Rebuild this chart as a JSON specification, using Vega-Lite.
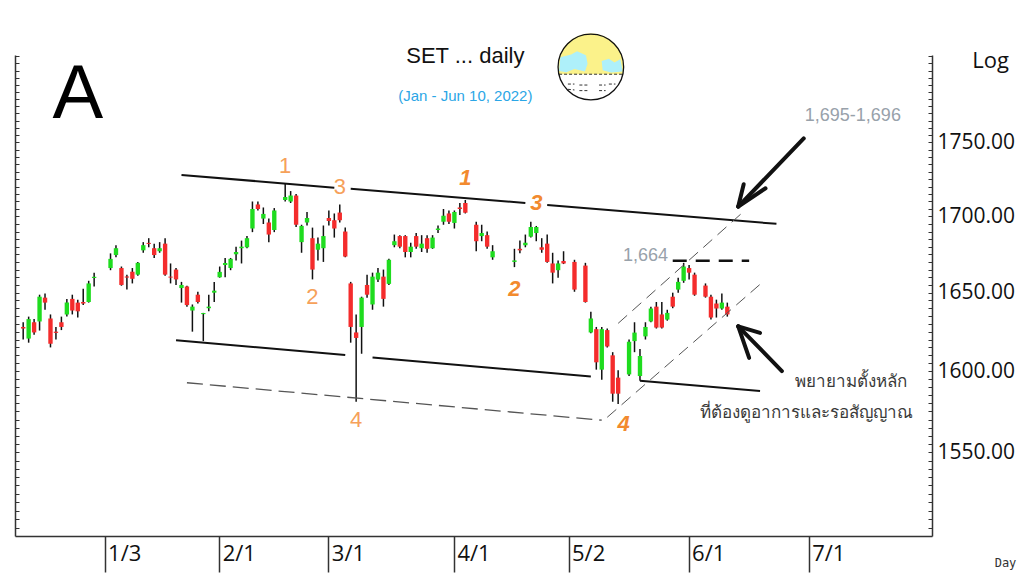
{
  "$schema": "https://vega.github.io/schema/vega-lite/v6.json",
  "width": 917,
  "height": 481,
  "autosize": {"type": "none"},
  "padding": {"left": 15, "top": 55, "right": 92, "bottom": 39},
  "background": "white",
  "config": {"view": {"stroke": null}, "font": "Liberation Sans"},
  "datasets": {
    "candles": [
      {"date": "2021-12-13", "open": 1628, "high": 1631, "low": 1620, "close": 1627},
      {"date": "2021-12-14", "open": 1620.6, "high": 1634.6, "low": 1618, "close": 1633},
      {"date": "2021-12-15", "open": 1631, "high": 1633, "low": 1623, "close": 1624.5},
      {"date": "2021-12-16", "open": 1631.5, "high": 1648.7, "low": 1625.7, "close": 1647.4},
      {"date": "2021-12-17", "open": 1646.8, "high": 1649.4, "low": 1639, "close": 1643.6},
      {"date": "2021-12-20", "open": 1633.4, "high": 1636, "low": 1615, "close": 1617.4},
      {"date": "2021-12-21", "open": 1625, "high": 1628, "low": 1620, "close": 1624.2},
      {"date": "2021-12-22", "open": 1631, "high": 1634.6, "low": 1626, "close": 1628},
      {"date": "2021-12-23", "open": 1636, "high": 1646, "low": 1634.6, "close": 1643.6},
      {"date": "2021-12-24", "open": 1646, "high": 1648.7, "low": 1636, "close": 1638.5},
      {"date": "2021-12-27", "open": 1643.6, "high": 1645.5, "low": 1634, "close": 1638},
      {"date": "2021-12-28", "open": 1644, "high": 1652.6, "low": 1642, "close": 1643},
      {"date": "2021-12-29", "open": 1644, "high": 1657.7, "low": 1643.6, "close": 1656},
      {"date": "2021-12-30", "open": 1659.5, "high": 1663, "low": 1654, "close": 1660.3},
      {"date": "2022-01-04", "open": 1666, "high": 1675.6, "low": 1664.6, "close": 1672},
      {"date": "2022-01-05", "open": 1674.5, "high": 1681, "low": 1673, "close": 1679},
      {"date": "2022-01-06", "open": 1666, "high": 1667, "low": 1654.5, "close": 1655},
      {"date": "2022-01-07", "open": 1660.5, "high": 1661.7, "low": 1652, "close": 1659.8},
      {"date": "2022-01-10", "open": 1663.6, "high": 1666, "low": 1656, "close": 1659},
      {"date": "2022-01-11", "open": 1661.7, "high": 1670, "low": 1661, "close": 1669.4},
      {"date": "2022-01-12", "open": 1677.6, "high": 1683, "low": 1676, "close": 1681},
      {"date": "2022-01-13", "open": 1682.5, "high": 1685.6, "low": 1679.6, "close": 1681.8},
      {"date": "2022-01-14", "open": 1679, "high": 1682, "low": 1672.6, "close": 1674.5},
      {"date": "2022-01-17", "open": 1677, "high": 1683, "low": 1676, "close": 1679},
      {"date": "2022-01-18", "open": 1682, "high": 1685.6, "low": 1661, "close": 1661.7},
      {"date": "2022-01-19", "open": 1660.4, "high": 1669, "low": 1656, "close": 1659.8},
      {"date": "2022-01-20", "open": 1665, "high": 1666, "low": 1655, "close": 1658.6},
      {"date": "2022-01-21", "open": 1653, "high": 1657, "low": 1643.6, "close": 1655},
      {"date": "2022-01-24", "open": 1654, "high": 1654.5, "low": 1641, "close": 1642},
      {"date": "2022-01-25", "open": 1638.5, "high": 1642.4, "low": 1625, "close": 1641},
      {"date": "2022-01-26", "open": 1648.7, "high": 1650.6, "low": 1643, "close": 1644},
      {"date": "2022-01-27", "open": 1636.2, "high": 1637, "low": 1619, "close": 1636.9},
      {"date": "2022-01-28", "open": 1640, "high": 1648.7, "low": 1638, "close": 1641},
      {"date": "2022-01-31", "open": 1650, "high": 1657, "low": 1644, "close": 1651.3},
      {"date": "2022-02-01", "open": 1660, "high": 1667, "low": 1659.7, "close": 1663.5},
      {"date": "2022-02-02", "open": 1668, "high": 1672.6, "low": 1660, "close": 1669.3},
      {"date": "2022-02-03", "open": 1666, "high": 1672.6, "low": 1664.6, "close": 1672},
      {"date": "2022-02-04", "open": 1675, "high": 1680, "low": 1671, "close": 1676.5},
      {"date": "2022-02-07", "open": 1679, "high": 1684, "low": 1669, "close": 1680},
      {"date": "2022-02-08", "open": 1679.6, "high": 1687, "low": 1679, "close": 1685.6},
      {"date": "2022-02-09", "open": 1692, "high": 1710, "low": 1689.6, "close": 1705},
      {"date": "2022-02-10", "open": 1708, "high": 1710, "low": 1704, "close": 1705},
      {"date": "2022-02-11", "open": 1698.6, "high": 1706, "low": 1695, "close": 1701.7},
      {"date": "2022-02-14", "open": 1696, "high": 1698.6, "low": 1683, "close": 1688},
      {"date": "2022-02-15", "open": 1691, "high": 1705.6, "low": 1689.6, "close": 1704},
      {"date": "2022-02-17", "open": 1711, "high": 1722, "low": 1710, "close": 1713},
      {"date": "2022-02-18", "open": 1710, "high": 1717, "low": 1709, "close": 1714},
      {"date": "2022-02-21", "open": 1714, "high": 1715, "low": 1693, "close": 1694.5},
      {"date": "2022-02-22", "open": 1683, "high": 1694.5, "low": 1676, "close": 1693.7},
      {"date": "2022-02-23", "open": 1696, "high": 1702.9, "low": 1694, "close": 1699},
      {"date": "2022-02-24", "open": 1685.6, "high": 1692.6, "low": 1658.6, "close": 1665},
      {"date": "2022-02-25", "open": 1678, "high": 1686, "low": 1671, "close": 1682},
      {"date": "2022-02-28", "open": 1679, "high": 1694, "low": 1670, "close": 1687},
      {"date": "2022-03-01", "open": 1699, "high": 1704, "low": 1694, "close": 1697},
      {"date": "2022-03-02", "open": 1697.5, "high": 1702, "low": 1686, "close": 1692},
      {"date": "2022-03-03", "open": 1702.6, "high": 1708, "low": 1696, "close": 1697.5},
      {"date": "2022-03-04", "open": 1690, "high": 1692.6, "low": 1673, "close": 1673.5},
      {"date": "2022-03-07", "open": 1656, "high": 1657, "low": 1618, "close": 1628},
      {"date": "2022-03-08", "open": 1624.5, "high": 1636, "low": 1581, "close": 1621},
      {"date": "2022-03-09", "open": 1628, "high": 1647.4, "low": 1611, "close": 1646.8},
      {"date": "2022-03-10", "open": 1655, "high": 1661.7, "low": 1646.8, "close": 1648.7},
      {"date": "2022-03-11", "open": 1642.4, "high": 1663, "low": 1639, "close": 1660.4},
      {"date": "2022-03-14", "open": 1658.5, "high": 1666, "low": 1657, "close": 1663},
      {"date": "2022-03-15", "open": 1660.4, "high": 1665, "low": 1641, "close": 1646},
      {"date": "2022-03-16", "open": 1655.7, "high": 1672, "low": 1655, "close": 1671.4},
      {"date": "2022-03-17", "open": 1681, "high": 1688, "low": 1679.6, "close": 1683.6},
      {"date": "2022-03-18", "open": 1687, "high": 1687.6, "low": 1679, "close": 1680},
      {"date": "2022-03-21", "open": 1687, "high": 1687.6, "low": 1673, "close": 1676.5},
      {"date": "2022-03-22", "open": 1676.5, "high": 1682.6, "low": 1673, "close": 1680},
      {"date": "2022-03-23", "open": 1687, "high": 1689, "low": 1678.6, "close": 1680},
      {"date": "2022-03-24", "open": 1679, "high": 1687.6, "low": 1676.5, "close": 1682},
      {"date": "2022-03-25", "open": 1685.6, "high": 1687.6, "low": 1676, "close": 1678.6},
      {"date": "2022-03-28", "open": 1679, "high": 1687.6, "low": 1678.6, "close": 1686},
      {"date": "2022-03-29", "open": 1691, "high": 1694, "low": 1689, "close": 1692},
      {"date": "2022-03-30", "open": 1696.5, "high": 1705, "low": 1694.5, "close": 1700.5},
      {"date": "2022-03-31", "open": 1702, "high": 1704, "low": 1695, "close": 1696.5},
      {"date": "2022-04-01", "open": 1695.7, "high": 1704, "low": 1692, "close": 1703},
      {"date": "2022-04-04", "open": 1706, "high": 1709, "low": 1701, "close": 1705},
      {"date": "2022-04-05", "open": 1709, "high": 1711, "low": 1702, "close": 1702.5},
      {"date": "2022-04-07", "open": 1694.5, "high": 1696.5, "low": 1677, "close": 1683.6},
      {"date": "2022-04-08", "open": 1687, "high": 1694.5, "low": 1683.6, "close": 1689},
      {"date": "2022-04-11", "open": 1687.6, "high": 1690, "low": 1678.6, "close": 1680},
      {"date": "2022-04-12", "open": 1673, "high": 1681, "low": 1671.4, "close": 1677},
      {"date": "2022-04-18", "open": 1670, "high": 1678.6, "low": 1666.6, "close": 1671},
      {"date": "2022-04-19", "open": 1678.6, "high": 1684, "low": 1675.7, "close": 1677.6},
      {"date": "2022-04-20", "open": 1681, "high": 1688, "low": 1679.6, "close": 1682.6},
      {"date": "2022-04-21", "open": 1686.6, "high": 1696.5, "low": 1686, "close": 1693},
      {"date": "2022-04-22", "open": 1689, "high": 1693.7, "low": 1683.6, "close": 1693},
      {"date": "2022-04-25", "open": 1679.6, "high": 1685.6, "low": 1676, "close": 1678},
      {"date": "2022-04-26", "open": 1682, "high": 1688, "low": 1669.4, "close": 1670},
      {"date": "2022-04-27", "open": 1669, "high": 1676, "low": 1656, "close": 1663},
      {"date": "2022-04-28", "open": 1664.6, "high": 1671, "low": 1659.7, "close": 1669},
      {"date": "2022-04-29", "open": 1670.6, "high": 1677, "low": 1668.6, "close": 1669},
      {"date": "2022-05-03", "open": 1670, "high": 1671.4, "low": 1650.6, "close": 1652},
      {"date": "2022-05-05", "open": 1667.6, "high": 1669.4, "low": 1643.6, "close": 1644},
      {"date": "2022-05-06", "open": 1624.5, "high": 1637.7, "low": 1624, "close": 1633.4},
      {"date": "2022-05-09", "open": 1626.6, "high": 1628, "low": 1601, "close": 1605.6},
      {"date": "2022-05-10", "open": 1601, "high": 1628, "low": 1594.6, "close": 1626.6},
      {"date": "2022-05-11", "open": 1626, "high": 1627, "low": 1615, "close": 1615.6},
      {"date": "2022-05-12", "open": 1610, "high": 1612, "low": 1581, "close": 1586},
      {"date": "2022-05-13", "open": 1596, "high": 1600.6, "low": 1579.6, "close": 1586},
      {"date": "2022-05-17", "open": 1598, "high": 1620, "low": 1597, "close": 1618.6},
      {"date": "2022-05-18", "open": 1619, "high": 1631, "low": 1612, "close": 1624.4},
      {"date": "2022-05-19", "open": 1597, "high": 1614, "low": 1594, "close": 1609.6},
      {"date": "2022-05-20", "open": 1622, "high": 1631, "low": 1620, "close": 1628},
      {"date": "2022-05-23", "open": 1631.5, "high": 1641, "low": 1631, "close": 1639.8},
      {"date": "2022-05-24", "open": 1641, "high": 1644, "low": 1627, "close": 1627.6},
      {"date": "2022-05-25", "open": 1636, "high": 1644, "low": 1627, "close": 1627.6},
      {"date": "2022-05-26", "open": 1632.7, "high": 1639, "low": 1632, "close": 1637},
      {"date": "2022-05-27", "open": 1647.4, "high": 1650, "low": 1640, "close": 1641},
      {"date": "2022-05-30", "open": 1652, "high": 1659.7, "low": 1650, "close": 1657},
      {"date": "2022-05-31", "open": 1657.7, "high": 1669.4, "low": 1656.4, "close": 1667},
      {"date": "2022-06-01", "open": 1666, "high": 1668, "low": 1658.6, "close": 1663},
      {"date": "2022-06-02", "open": 1661.7, "high": 1663, "low": 1648, "close": 1648.7},
      {"date": "2022-06-06", "open": 1654.6, "high": 1656, "low": 1646.8, "close": 1647.4},
      {"date": "2022-06-07", "open": 1647.4, "high": 1648.7, "low": 1632.7, "close": 1634},
      {"date": "2022-06-08", "open": 1643, "high": 1645.5, "low": 1634, "close": 1639.8},
      {"date": "2022-06-09", "open": 1639.8, "high": 1649.4, "low": 1639, "close": 1643.6},
      {"date": "2022-06-10", "open": 1641, "high": 1643.6, "low": 1634.6, "close": 1636}
    ],
    "trend": [
      {"date": "2022-01-21", "date_end": "2022-03-02", "price": 1727.9, "price_end": 1719.3},
      {"date": "2022-03-07", "date_end": "2022-04-20", "price": 1718.5, "price_end": 1709},
      {"date": "2022-04-26", "date_end": "2022-06-23", "price": 1707.6, "price_end": 1695.1},
      {"date": "2022-01-20", "date_end": "2022-03-04", "price": 1619.5, "price_end": 1610.2},
      {"date": "2022-03-11", "date_end": "2022-05-06", "price": 1608.7, "price_end": 1596.7},
      {"date": "2022-05-19", "date_end": "2022-06-20", "price": 1594.1, "price_end": 1587.6}
    ],
    "guide": [
      {"date": "2022-01-24", "date_end": "2022-05-10", "price": 1592.8, "price_end": 1569.6}
    ],
    "channel": [
      {"date": "2022-05-13", "date_end": "2022-06-15", "price": 1630.3, "price_end": 1703.3},
      {"date": "2022-05-11", "date_end": "2022-06-20", "price": 1571.4, "price_end": 1655.4}
    ],
    "level": [
      {"date": "2022-05-27", "date_end": "2022-06-16", "price": 1670.8, "price_end": 1670.8}
    ],
    "arrows": [
      {"date": "2022-06-30", "date_end": "2022-06-14", "price": 1752.8, "price_end": 1706.6},
      {"date": "2022-06-14", "date_end": "2022-06-15", "price": 1706.6, "price_end": 1721.6},
      {"date": "2022-06-14", "date_end": "2022-06-21", "price": 1706.6, "price_end": 1718.9},
      {"date": "2022-06-24", "date_end": "2022-06-14", "price": 1600.1, "price_end": 1628.4},
      {"date": "2022-06-14", "date_end": "2022-06-20", "price": 1628.4, "price_end": 1624.2},
      {"date": "2022-06-14", "date_end": "2022-06-16", "price": 1628.4, "price_end": 1608.4}
    ],
    "notes": [
      {"date": "2022-02-17", "price": 1734, "text": "1", "kind": "wave"},
      {"date": "2022-03-03", "price": 1720, "text": "3", "kind": "wave"},
      {"date": "2022-02-24", "price": 1647.5, "text": "2", "kind": "wave"},
      {"date": "2022-03-08", "price": 1569.5, "text": "4", "kind": "wave"},
      {"date": "2022-04-05", "price": 1726, "text": "1", "kind": "wave_alt"},
      {"date": "2022-04-22", "price": 1709, "text": "3", "kind": "wave_alt"},
      {"date": "2022-04-18", "price": 1652.5, "text": "2", "kind": "wave_alt"},
      {"date": "2022-05-16", "price": 1567.5, "text": "4", "kind": "wave_alt"},
      {"date": "2022-05-20", "price": 1674, "text": "1,664", "kind": "level"},
      {"date": "2022-07-13", "price": 1768.5, "text": "1,695-1,696", "kind": "level"},
      {"date": "2022-07-27", "price": 1593, "text": "พยายามตั้งหลัก", "kind": "comment"},
      {"date": "2022-07-28", "price": 1574, "text": "ที่ต้องดูอาการและรอสัญญาณ", "kind": "comment"},
      {"date": "2021-12-27", "price": 1782.7, "text": "A", "kind": "panel"},
      {"date": "2022-04-05", "price": 1810, "text": "SET ... daily", "kind": "title"},
      {"date": "2022-04-05", "price": 1782, "text": "(Jan - Jun 10, 2022)", "kind": "subtitle"}
    ],
    "logo": [
      {"date": "2022-05-06", "price": 1802.5}
    ]
  },
  "resolve": {"axis": {"y": "independent"}},
  "encoding": {
    "x": {
      "field": "date",
      "type": "ordinal",
      "scale": {
        "paddingInner": 0.2,
        "paddingOuter": 0.1,
        "domain": [
          "2021-12-10", "2021-12-13", "2021-12-14", "2021-12-15", "2021-12-16", "2021-12-17",
          "2021-12-20", "2021-12-21", "2021-12-22", "2021-12-23", "2021-12-24",
          "2021-12-27", "2021-12-28", "2021-12-29", "2021-12-30", "2021-12-31",
          "2022-01-03", "2022-01-04", "2022-01-05", "2022-01-06", "2022-01-07",
          "2022-01-10", "2022-01-11", "2022-01-12", "2022-01-13", "2022-01-14",
          "2022-01-17", "2022-01-18", "2022-01-19", "2022-01-20", "2022-01-21",
          "2022-01-24", "2022-01-25", "2022-01-26", "2022-01-27", "2022-01-28",
          "2022-01-31", "2022-02-01", "2022-02-02", "2022-02-03", "2022-02-04",
          "2022-02-07", "2022-02-08", "2022-02-09", "2022-02-10", "2022-02-11",
          "2022-02-14", "2022-02-15", "2022-02-16", "2022-02-17", "2022-02-18",
          "2022-02-21", "2022-02-22", "2022-02-23", "2022-02-24", "2022-02-25",
          "2022-02-28", "2022-03-01", "2022-03-02", "2022-03-03", "2022-03-04",
          "2022-03-07", "2022-03-08", "2022-03-09", "2022-03-10", "2022-03-11",
          "2022-03-14", "2022-03-15", "2022-03-16", "2022-03-17", "2022-03-18",
          "2022-03-21", "2022-03-22", "2022-03-23", "2022-03-24", "2022-03-25",
          "2022-03-28", "2022-03-29", "2022-03-30", "2022-03-31", "2022-04-01",
          "2022-04-04", "2022-04-05", "2022-04-06", "2022-04-07", "2022-04-08",
          "2022-04-11", "2022-04-12", "2022-04-13", "2022-04-14", "2022-04-15",
          "2022-04-18", "2022-04-19", "2022-04-20", "2022-04-21", "2022-04-22",
          "2022-04-25", "2022-04-26", "2022-04-27", "2022-04-28", "2022-04-29",
          "2022-05-02", "2022-05-03", "2022-05-04", "2022-05-05", "2022-05-06",
          "2022-05-09", "2022-05-10", "2022-05-11", "2022-05-12", "2022-05-13",
          "2022-05-16", "2022-05-17", "2022-05-18", "2022-05-19", "2022-05-20",
          "2022-05-23", "2022-05-24", "2022-05-25", "2022-05-26", "2022-05-27",
          "2022-05-30", "2022-05-31", "2022-06-01", "2022-06-02", "2022-06-03",
          "2022-06-06", "2022-06-07", "2022-06-08", "2022-06-09", "2022-06-10",
          "2022-06-13", "2022-06-14", "2022-06-15", "2022-06-16", "2022-06-17",
          "2022-06-20", "2022-06-21", "2022-06-22", "2022-06-23", "2022-06-24",
          "2022-06-27", "2022-06-28", "2022-06-29", "2022-06-30", "2022-07-01",
          "2022-07-04", "2022-07-05", "2022-07-06", "2022-07-07", "2022-07-08",
          "2022-07-11", "2022-07-12", "2022-07-13", "2022-07-14", "2022-07-15",
          "2022-07-18", "2022-07-19", "2022-07-20", "2022-07-21", "2022-07-22",
          "2022-07-25", "2022-07-26", "2022-07-27", "2022-07-28", "2022-07-29",
          "2022-08-01", "2022-08-02"
        ]
      },
      "axis": {
        "values": ["2022-01-03", "2022-02-01", "2022-03-01", "2022-04-01", "2022-05-02", "2022-06-01", "2022-07-01"],
        "labelExpr": "toNumber(slice(datum.value, 5, 7)) + '/' + toNumber(slice(datum.value, 8, 10))",
        "labelAngle": 0,
        "labelAlign": "left",
        "labelBaseline": "top",
        "labelOffset": 3,
        "labelPadding": -29,
        "labelFont": "Open Sans",
        "labelFontSize": 22,
        "labelColor": "#111",
        "tickSize": 36,
        "tickColor": "#333",
        "tickWidth": 1.5,
        "domainColor": "#333",
        "domainWidth": 1.5,
        "grid": false,
        "title": "Day",
        "titleFont": "DejaVu Sans Mono",
        "titleFontSize": 12,
        "titleFontWeight": "normal",
        "titleColor": "#333",
        "titleAlign": "center",
        "titleBaseline": "middle",
        "titleX": 990,
        "titleY": 26
      }
    }
  },
  "layer": [
    {
      "data": {"name": "candles"},
      "mark": {"type": "rule", "color": "#111", "strokeWidth": 1.5},
      "encoding": {
        "y": {
          "field": "low",
          "type": "quantitative",
          "scale": {"type": "log", "domain": [1500, 1811], "nice": false, "zero": false},
          "axis": {
            "orient": "right",
            "values": [1505, 1510, 1515, 1520, 1525, 1530, 1535, 1540, 1545, 1550, 1555, 1560, 1565, 1570, 1575, 1580, 1585, 1590, 1595, 1600, 1605, 1610, 1615, 1620, 1625, 1630, 1635, 1640, 1645, 1650, 1655, 1660, 1665, 1670, 1675, 1680, 1685, 1690, 1695, 1700, 1705, 1710, 1715, 1720, 1725, 1730, 1735, 1740, 1745, 1750, 1755, 1760, 1765, 1770, 1775, 1780, 1785, 1790, 1795, 1800, 1805, 1810],
            "labelExpr": "datum.value % 50 == 0 && datum.value < 1800 ? format(datum.value, '.2f') : ''",
            "labelOverlap": false,
            "labelFont": "Open Sans",
            "labelFontSize": 21,
            "labelColor": "#111",
            "labelPadding": 9,
            "tickSize": -4,
            "tickColor": "#333",
            "domainColor": "#333",
            "domainWidth": 1.5,
            "grid": false,
            "title": "Log",
            "titleAngle": 0,
            "titleFont": "Open Sans",
            "titleFontSize": 22,
            "titleFontWeight": "normal",
            "titleColor": "#111",
            "titleAlign": "center",
            "titleBaseline": "middle",
            "titleX": 58,
            "titleY": 5
          }
        },
        "y2": {"field": "high"}
      }
    },
    {
      "data": {"name": "candles"},
      "mark": {"type": "bar"},
      "encoding": {
        "y": {
          "field": "open",
          "type": "quantitative",
          "scale": {"type": "log", "domain": [1500, 1811], "nice": false, "zero": false},
          "axis": {
            "orient": "left",
            "values": [1505, 1510, 1515, 1520, 1525, 1530, 1535, 1540, 1545, 1550, 1555, 1560, 1565, 1570, 1575, 1580, 1585, 1590, 1595, 1600, 1605, 1610, 1615, 1620, 1625, 1630, 1635, 1640, 1645, 1650, 1655, 1660, 1665, 1670, 1675, 1680, 1685, 1690, 1695, 1700, 1705, 1710, 1715, 1720, 1725, 1730, 1735, 1740, 1745, 1750, 1755, 1760, 1765, 1770, 1775, 1780, 1785, 1790, 1795, 1800, 1805, 1810],
            "labels": false,
            "tickSize": -4,
            "tickColor": "#333",
            "domainColor": "#333",
            "domainWidth": 1.5,
            "grid": false,
            "title": null
          }
        },
        "y2": {"field": "close"},
        "color": {
          "condition": {"test": "datum.close >= datum.open", "value": "#1fdc1f"},
          "value": "#f42c2c"
        }
      }
    },
    {
      "data": {"name": "trend"},
      "mark": {"type": "rule", "color": "#111", "strokeWidth": 2},
      "encoding": {
        "x2": {"field": "date_end"},
        "y": {"field": "price", "type": "quantitative", "scale": {"type": "log", "domain": [1500, 1811], "nice": false, "zero": false}, "axis": null},
        "y2": {"field": "price_end"}
      }
    },
    {
      "data": {"name": "guide"},
      "mark": {"type": "rule", "color": "#555", "strokeWidth": 1.3, "strokeDash": [16, 7]},
      "encoding": {
        "x2": {"field": "date_end"},
        "y": {"field": "price", "type": "quantitative", "scale": {"type": "log", "domain": [1500, 1811], "nice": false, "zero": false}, "axis": null},
        "y2": {"field": "price_end"}
      }
    },
    {
      "data": {"name": "channel"},
      "mark": {"type": "rule", "color": "#555", "strokeWidth": 1, "strokeDash": [12, 7]},
      "encoding": {
        "x2": {"field": "date_end"},
        "y": {"field": "price", "type": "quantitative", "scale": {"type": "log", "domain": [1500, 1811], "nice": false, "zero": false}, "axis": null},
        "y2": {"field": "price_end"}
      }
    },
    {
      "data": {"name": "level"},
      "mark": {"type": "rule", "color": "#111", "strokeWidth": 2.5, "strokeDash": [14, 9]},
      "encoding": {
        "x2": {"field": "date_end"},
        "y": {"field": "price", "type": "quantitative", "scale": {"type": "log", "domain": [1500, 1811], "nice": false, "zero": false}, "axis": null},
        "y2": {"field": "price_end"}
      }
    },
    {
      "data": {"name": "arrows"},
      "mark": {"type": "rule", "color": "#111", "strokeWidth": 4, "strokeCap": "round"},
      "encoding": {
        "x2": {"field": "date_end"},
        "y": {"field": "price", "type": "quantitative", "scale": {"type": "log", "domain": [1500, 1811], "nice": false, "zero": false}, "axis": null},
        "y2": {"field": "price_end"}
      }
    },
    {
      "data": {"name": "notes"},
      "transform": [{"filter": "datum.kind == 'wave'"}],
      "mark": {"type": "text", "font": "Liberation Sans", "fontSize": 22, "color": "#f6a15a", "baseline": "middle"},
      "encoding": {
        "y": {"field": "price", "type": "quantitative", "scale": {"type": "log", "domain": [1500, 1811], "nice": false, "zero": false}, "axis": null},
        "text": {"field": "text"}
      }
    },
    {
      "data": {"name": "notes"},
      "transform": [{"filter": "datum.kind == 'wave_alt'"}],
      "mark": {"type": "text", "font": "Liberation Sans", "fontSize": 22, "fontWeight": "bold", "fontStyle": "italic", "color": "#f28a2e", "baseline": "middle"},
      "encoding": {
        "y": {"field": "price", "type": "quantitative", "scale": {"type": "log", "domain": [1500, 1811], "nice": false, "zero": false}, "axis": null},
        "text": {"field": "text"}
      }
    },
    {
      "data": {"name": "notes"},
      "transform": [{"filter": "datum.kind == 'level'"}],
      "mark": {"type": "text", "font": "Liberation Sans", "fontSize": 18, "color": "#98a1aa", "baseline": "middle"},
      "encoding": {
        "y": {"field": "price", "type": "quantitative", "scale": {"type": "log", "domain": [1500, 1811], "nice": false, "zero": false}, "axis": null},
        "text": {"field": "text"}
      }
    },
    {
      "data": {"name": "notes"},
      "transform": [{"filter": "datum.kind == 'comment'"}],
      "mark": {"type": "text", "fontSize": 17, "color": "#3a3a3a", "align": "right", "baseline": "middle"},
      "encoding": {
        "y": {"field": "price", "type": "quantitative", "scale": {"type": "log", "domain": [1500, 1811], "nice": false, "zero": false}, "axis": null},
        "text": {"field": "text"}
      }
    },
    {
      "data": {"name": "notes"},
      "transform": [{"filter": "datum.kind == 'panel'"}],
      "mark": {"type": "text", "font": "Liberation Sans", "fontSize": 76, "color": "#000", "baseline": "middle"},
      "encoding": {
        "y": {"field": "price", "type": "quantitative", "scale": {"type": "log", "domain": [1500, 1811], "nice": false, "zero": false}, "axis": null},
        "text": {"field": "text"}
      }
    },
    {
      "data": {"name": "notes"},
      "transform": [{"filter": "datum.kind == 'title'"}],
      "mark": {"type": "text", "font": "Liberation Sans", "fontSize": 22, "color": "#111", "baseline": "middle"},
      "encoding": {
        "y": {"field": "price", "type": "quantitative", "scale": {"type": "log", "domain": [1500, 1811], "nice": false, "zero": false}, "axis": null},
        "text": {"field": "text"}
      }
    },
    {
      "data": {"name": "notes"},
      "transform": [{"filter": "datum.kind == 'subtitle'"}],
      "mark": {"type": "text", "font": "Liberation Sans", "fontSize": 15, "color": "#2ba6e6", "baseline": "middle"},
      "encoding": {
        "y": {"field": "price", "type": "quantitative", "scale": {"type": "log", "domain": [1500, 1811], "nice": false, "zero": false}, "axis": null},
        "text": {"field": "text"}
      }
    },
    {
      "data": {"name": "logo"},
      "mark": {"type": "point", "shape": "M -0.97 0.22 A 1 1 0 1 1 0.97 0.22 Z", "size": 4300, "filled": true, "fill": "#fbf28a", "opacity": 1},
      "encoding": {
        "y": {"field": "price", "type": "quantitative", "scale": {"type": "log", "domain": [1500, 1811], "nice": false, "zero": false}, "axis": null}
      }
    },
    {
      "data": {"name": "logo"},
      "mark": {"type": "point", "shape": "M -0.93 -0.3 L -0.6 -0.38 L -0.42 -0.48 L -0.15 -0.36 L -0.1 -0.1 L -0.18 0.14 L -0.5 0.06 L -0.75 0.16 L -0.97 0.12 Z M 0.33 -0.18 L 0.55 -0.25 L 0.72 -0.14 L 0.9 -0.24 L 0.97 0.14 L 0.62 0.17 L 0.36 0.1 Z", "size": 4300, "filled": true, "fill": "#aef0fa", "opacity": 1},
      "encoding": {
        "y": {"field": "price", "type": "quantitative", "scale": {"type": "log", "domain": [1500, 1811], "nice": false, "zero": false}, "axis": null}
      }
    },
    {
      "data": {"name": "logo"},
      "mark": {"type": "point", "shape": "M -0.97 0.22 L 0.97 0.22 M -0.7 0.52 L -0.5 0.52 M -0.35 0.55 L -0.1 0.55 M 0.25 0.55 L 0.45 0.55 M 0.55 0.52 L 0.75 0.52 M -0.7 0.68 L -0.5 0.7 M -0.35 0.72 L -0.1 0.72 M 0.25 0.72 L 0.45 0.72", "size": 4300, "filled": false, "stroke": "#333", "strokeWidth": 1, "strokeDash": [3, 2], "opacity": 1},
      "encoding": {
        "y": {"field": "price", "type": "quantitative", "scale": {"type": "log", "domain": [1500, 1811], "nice": false, "zero": false}, "axis": null}
      }
    },
    {
      "data": {"name": "logo"},
      "mark": {"type": "point", "shape": "circle", "size": 4300, "filled": false, "stroke": "#111", "strokeWidth": 1.3, "opacity": 1},
      "encoding": {
        "y": {"field": "price", "type": "quantitative", "scale": {"type": "log", "domain": [1500, 1811], "nice": false, "zero": false}, "axis": null}
      }
    }
  ]
}
